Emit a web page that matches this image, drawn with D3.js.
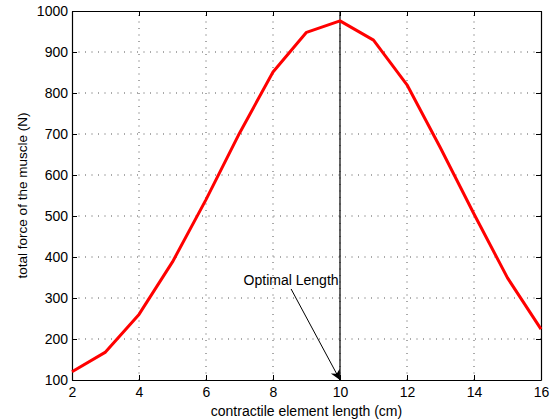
<!DOCTYPE html>
<html>
<head>
<meta charset="utf-8">
<script src="https://cdn.jsdelivr.net/npm/d3@7"></script>
<style>
  body { margin: 0; background: #fff; }
  svg { font-family: "Liberation Sans", Arial, sans-serif; }
</style>
</head>
<body>
<div id="chart"></div>
<script>
const lengths = [2, 3, 4, 5, 6, 7, 8, 9, 10, 11, 12, 13, 14, 15, 16];
const forces = [120, 168, 260, 388, 540, 702, 851, 948, 976, 929, 820, 666, 505, 349, 224];
const xTicks = [2, 4, 6, 8, 10, 12, 14, 16];
const yTicks = [100, 200, 300, 400, 500, 600, 700, 800, 900, 1000];
const optimalLength = 10;

const width = 558;
const height = 419;
const margin = {top: 11, right: 17, bottom: 39, left: 72};

const x = d3.scaleLinear()
    .domain([2, 16])
    .range([margin.left, width - margin.right]);

const y = d3.scaleLinear()
    .domain([100, 1000])
    .range([height - margin.bottom, margin.top]);

const svg = d3.select("#chart").append("svg")
    .attr("width", width)
    .attr("height", height);

// dotted grid
svg.append("g")
    .selectAll("line")
    .data(xTicks.slice(1, -1))
    .join("line")
    .attr("x1", d => x(d)).attr("x2", d => x(d))
    .attr("y1", y(100)).attr("y2", y(1000))
    .attr("stroke", "#555")
    .attr("stroke-width", 1)
    .attr("stroke-dasharray", "1,5.5");

svg.append("g")
    .selectAll("line")
    .data(yTicks.slice(1, -1))
    .join("line")
    .attr("x1", x(2)).attr("x2", x(16))
    .attr("y1", d => y(d)).attr("y2", d => y(d))
    .attr("stroke", "#555")
    .attr("stroke-width", 1)
    .attr("stroke-dasharray", "1,5.5");

// axes, ticks pointing inward
const xAxis = g => g
    .attr("transform", `translate(0,${y(100)})`)
    .call(d3.axisBottom(x).tickValues(xTicks).tickSize(-5).tickPadding(7).tickSizeOuter(0))
    .attr("font-size", "14px")
    .attr("font-family", null);

const yAxis = g => g
    .attr("transform", `translate(${x(2)},0)`)
    .call(d3.axisLeft(y).tickValues(yTicks).tickFormat(d3.format("d")).tickSize(-5).tickPadding(4).tickSizeOuter(0))
    .attr("font-size", "14px")
    .attr("font-family", null);

svg.append("g").call(xAxis);
svg.append("g").call(yAxis);

svg.append("g")
    .attr("transform", `translate(0,${y(1000)})`)
    .call(d3.axisTop(x).tickValues(xTicks).tickSize(-5).tickFormat("").tickSizeOuter(0));

svg.append("g")
    .attr("transform", `translate(${x(16)},0)`)
    .call(d3.axisRight(y).tickValues(yTicks).tickSize(-5).tickFormat("").tickSizeOuter(0));

svg.selectAll(".domain").attr("stroke-width", 1.2);
svg.selectAll(".tick text").attr("fill", "#000");

// optimal length line
svg.append("line")
    .attr("x1", x(optimalLength)).attr("x2", x(optimalLength))
    .attr("y1", y(100)).attr("y2", y(1000))
    .attr("stroke", "#000")
    .attr("stroke-width", 1.2);

// force curve
const line = d3.line()
    .x((d, i) => x(lengths[i]))
    .y(d => y(d));

svg.append("path")
    .datum(forces)
    .attr("fill", "none")
    .attr("stroke", "#ff0000")
    .attr("stroke-width", 3)
    .attr("stroke-linejoin", "round")
    .attr("d", line);

// annotation arrow
svg.append("defs").append("marker")
    .attr("id", "arrow")
    .attr("viewBox", "0 0 10 10")
    .attr("refX", 10).attr("refY", 5)
    .attr("markerWidth", 13).attr("markerHeight", 10)
    .attr("markerUnits", "userSpaceOnUse")
    .attr("orient", "auto")
    .append("path")
    .attr("d", "M0,0 L10,5 L0,10 L3,5 Z")
    .attr("fill", "#000");

svg.append("line")
    .attr("x1", x(8.54)).attr("y1", y(322))
    .attr("x2", x(optimalLength)).attr("y2", y(100))
    .attr("stroke", "#000")
    .attr("stroke-width", 1)
    .attr("marker-end", "url(#arrow)");

svg.append("text")
    .attr("x", x(8.54))
    .attr("y", y(331))
    .attr("text-anchor", "middle")
    .attr("font-size", "14px")
    .text("Optimal Length");

// axis titles
svg.append("text")
    .attr("x", (x(2) + x(16)) / 2)
    .attr("y", height - 3)
    .attr("text-anchor", "middle")
    .attr("font-size", "14px")
    .text("contractile element length (cm)");

svg.append("text")
    .attr("transform", `translate(27,${(y(100) + y(1000)) / 2}) rotate(-90)`)
    .attr("text-anchor", "middle")
    .attr("font-size", "13.5px")
    .text("total force of the muscle (N)");
</script>
</body>
</html>
